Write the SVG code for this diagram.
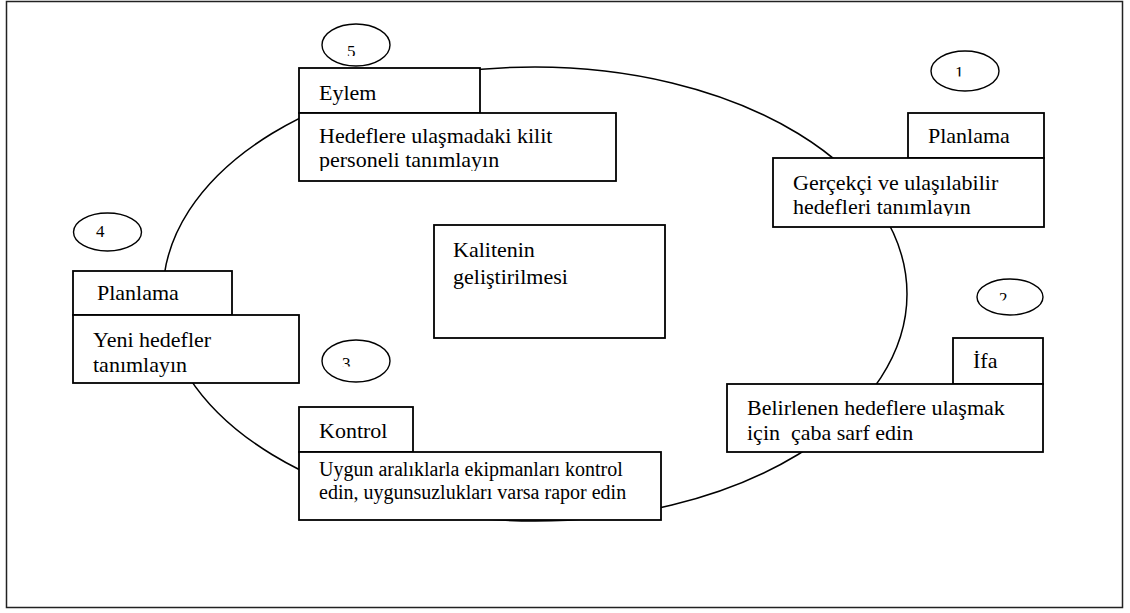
<svg xmlns="http://www.w3.org/2000/svg" width="1130" height="613" viewBox="0 0 1130 613">
<style>
.box{fill:#fff;stroke:#000;stroke-width:1.8}
.num{fill:#fff;stroke:#000;stroke-width:1.4}
.t{font-family:"Liberation Serif","Times New Roman",serif;font-size:22px;fill:#000}
.s{font-size:20px}
.d{font-family:"Liberation Serif","Times New Roman",serif;font-size:17px;fill:#000}
.cycle{fill:none;stroke:#000;stroke-width:1.5}
</style>
<defs>
<clipPath id="c5"><rect x="330" y="30" width="50" height="26"/></clipPath>
<clipPath id="c1"><rect x="940" y="55" width="50" height="21.5"/></clipPath>
<clipPath id="c4"><rect x="85" y="215" width="50" height="23"/></clipPath>
<clipPath id="c3"><rect x="330" y="345" width="50" height="21.5"/></clipPath>
<clipPath id="c2"><rect x="985" y="282" width="50" height="18.5"/></clipPath>
<clipPath id="cEylem"><rect x="299" y="113" width="317" height="58"/></clipPath>
<clipPath id="cPlan1"><rect x="773" y="158" width="271" height="58"/></clipPath>
</defs>
<rect x="0" y="0" width="1130" height="613" fill="#fff"/>
<rect x="6.5" y="1.5" width="1116" height="606" fill="none" stroke="#222" stroke-width="1.5"/>

<g id="connectors">
<ellipse class="cycle" cx="535" cy="294" rx="372" ry="227"/>
</g>

<g id="num5"><ellipse class="num" cx="356" cy="45" rx="34" ry="21"/><text class="d" x="347" y="56.5" clip-path="url(#c5)">5</text></g>
<g id="num1"><ellipse class="num" cx="965" cy="71" rx="34" ry="20"/><text class="d" x="955" y="78" clip-path="url(#c1)">1</text></g>
<g id="num4"><ellipse class="num" cx="107.5" cy="232" rx="34" ry="19"/><text class="d" x="96" y="236.5" clip-path="url(#c4)">4</text></g>
<g id="num3"><ellipse class="num" cx="356" cy="361" rx="34" ry="21"/><text class="d" x="342" y="368.5" clip-path="url(#c3)">3</text></g>
<g id="num2"><ellipse class="num" cx="1010" cy="297" rx="33" ry="18"/><text class="d" x="999" y="303.5" clip-path="url(#c2)">2</text></g>

<g id="eylem">
<rect class="box" x="299" y="68" width="181" height="45"/>
<text class="t" x="319" y="100">Eylem</text>
<rect class="box" x="299" y="113" width="317" height="68"/>
<g clip-path="url(#cEylem)">
<text class="t" x="319" y="143">Hedeflere ulaşmadaki kilit</text>
<text class="t" x="319" y="167">personeli tanımlayın</text>
</g>
</g>

<g id="planlama1">
<rect class="box" x="908" y="113" width="136" height="45"/>
<text class="t" x="928" y="143">Planlama</text>
<rect class="box" x="773" y="158" width="271" height="69"/>
<g clip-path="url(#cPlan1)">
<text class="t" x="793" y="190">Gerçekçi ve ulaşılabilir</text>
<text class="t" x="793" y="214">hedefleri tanımlayın</text>
</g>
</g>

<g id="ifa">
<rect class="box" x="953" y="338" width="90" height="46"/>
<text class="t" x="973" y="368">İfa</text>
<rect class="box" x="727" y="384" width="316" height="68"/>
<text class="t" x="747" y="415">Belirlenen hedeflere ulaşmak</text>
<text class="t" x="747" y="440">için&#160; çaba sarf edin</text>
</g>

<g id="kontrol">
<rect class="box" x="299" y="407" width="114" height="45"/>
<text class="t" x="319" y="438">Kontrol</text>
<rect class="box" x="299" y="452" width="362" height="68"/>
<text class="t s" x="319" y="476">Uygun aralıklarla ekipmanları kontrol</text>
<text class="t s" x="319" y="499">edin, uygunsuzlukları varsa rapor edin</text>
</g>

<g id="planlama4">
<rect class="box" x="73" y="271" width="159" height="44"/>
<text class="t" x="97" y="300">Planlama</text>
<rect class="box" x="73" y="315" width="226" height="68"/>
<text class="t" x="93" y="347">Yeni hedefler</text>
<text class="t" x="93" y="372">tanımlayın</text>
</g>

<g id="kalite">
<rect class="box" x="434" y="225" width="231" height="113"/>
<text class="t" x="453" y="257">Kalitenin</text>
<text class="t" x="453" y="284">geliştirilmesi</text>
</g>
</svg>
